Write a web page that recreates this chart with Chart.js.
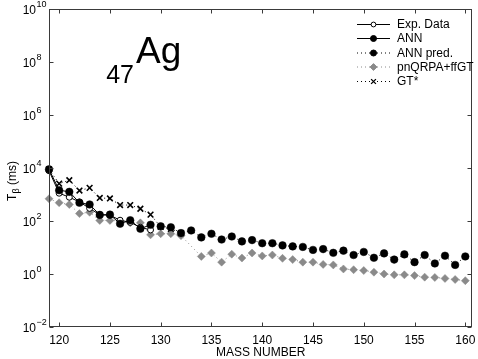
<!DOCTYPE html>
<html><head><meta charset="utf-8">
<script src="https://cdn.jsdelivr.net/npm/chart.js@4/dist/chart.umd.min.js"></script>
<style>html,body{margin:0;padding:0;background:#fff}#c{display:block}</style>
</head><body>
<canvas id="c" width="478" height="359"></canvas>
<script>
// ---- data (half-lives in ms) ----
const massNumbers = [119,120,121,122,123,124,125,126,127,128,129,130,131,132,133,134,135,136,137,138,139,140,141,142,143,144,145,146,147,148,149,150,151,152,153,154,155,156,157,158,159,160];
const expData = [7900,1120,790,525,300,172,166,107,89,58,46,null,null,null,null,null,null,null,null,null,null,null,null,null,null,null,null,null,null,null,null,null,null,null,null,null,null,null,null,null,null,null];
const annFit = [8900,1450,1260,490,420,170,174,79,107,51,72,null,null,null,null,null,null,null,null,null,null,null,null,null,null,null,null,null,null,null,null,null,null,null,null,null,null,null,null,null,null,null];
const annPred = [null,null,null,null,null,null,null,null,null,null,null,63,58,35,44,24,33,20,26,17,19,14.5,14.5,12,11,10.5,8.1,8.7,6.3,7.6,5.2,6.8,4.1,6.0,3.5,5.5,2.8,5.2,2.5,4.9,2.2,4.6];
const pnqrpa = [690,490,420,190,214,105,105,100,85,85,30,33,33,28,null,4.6,6.2,2.8,5.6,4.0,6.2,4.8,5.2,3.9,3.5,2.8,2.8,2.3,2.2,1.55,1.45,1.35,1.17,1.0,0.93,0.93,0.87,0.76,0.74,0.68,0.62,0.56];
const gtStar = [8900,2570,3470,1410,1780,740,710,400,400,290,174,60,50,35,null,null,null,null,null,null,null,null,null,null,null,null,null,null,null,null,null,null,null,null,null,null,null,null,null,null,null,null];
const seriesLabels = ['Exp. Data','ANN','ANN pred.','pnQRPA+ffGT','GT*'];
const xTicks = [120,125,130,135,140,145,150,155,160];
const yTickExponents = [-2,0,2,4,6,8,10];
const titleElement = 'Ag', titleZ = '47';
const xAxisTitle = 'MASS NUMBER';

const pts = vals => massNumbers.map((m,i)=>({x:m,y:vals[i]}));
const GREY = '#8a8a8a';
const FONT = '"Liberation Sans", Arial, Helvetica, sans-serif';

const datasets = [
  {label:seriesLabels[0], data:pts(expData), borderColor:'#000', borderWidth:1, pointStyle:'circle', pointRadius:3, pointBackgroundColor:'#fff', pointBorderColor:'#000', pointBorderWidth:1, order:3},
  {label:seriesLabels[1], data:pts(annFit), borderColor:'#000', borderWidth:1, pointStyle:'circle', pointRadius:3.8, pointBackgroundColor:'#000', pointBorderColor:'#000', pointBorderWidth:0.5, order:2},
  {label:seriesLabels[2], data:pts(annPred), borderColor:'#000', borderWidth:1, borderDash:[1,3], pointStyle:'circle', pointRadius:3.8, pointBackgroundColor:'#000', pointBorderColor:'#000', pointBorderWidth:0.5, order:1},
  {label:seriesLabels[3], data:pts(pnqrpa), borderColor:GREY, borderWidth:1, borderDash:[1,3], spanGaps:true, pointStyle:'rectRot', pointRadius:4, pointBackgroundColor:GREY, pointBorderColor:GREY, pointBorderWidth:0.5, order:4},
  {label:seriesLabels[4], data:pts(gtStar), borderColor:'#000', borderWidth:1, borderDash:[1,3], pointStyle:'crossRot', pointRadius:4, pointBorderColor:'#000', pointBorderWidth:1.6, order:0}
];
datasets.forEach(d=>{d.fill=false; d.tension=0; d.clip=false; d.spanGaps = d.spanGaps||false;});

const deco = {
  id:'deco',
  afterDraw(chart){
    const ctx = chart.ctx, xs = chart.scales.x, ys = chart.scales.y;
    const {left,right,top,bottom} = chart.chartArea;
    const L = Math.round(left)+0.5, R = Math.round(right)-0.5, T = Math.round(top)+0.5, B = Math.round(bottom)-0.5;
    ctx.save();
    ctx.strokeStyle='#3a3a3a'; ctx.lineWidth=1;
    ctx.strokeRect(L,T,R-L,B-T);
    ctx.beginPath();
    xTicks.forEach(v=>{const x=Math.round(xs.getPixelForValue(v))+0.5; ctx.moveTo(x,B); ctx.lineTo(x,B-4); ctx.moveTo(x,T); ctx.lineTo(x,T+4);});
    yTickExponents.forEach(e=>{const y=Math.round(ys.getPixelForValue(Math.pow(10,e)))+0.5; ctx.moveTo(L,y); ctx.lineTo(L+4,y); ctx.moveTo(R,y); ctx.lineTo(R-4,y);});
    ctx.stroke();
    ctx.fillStyle='#000';
    ctx.font='12px '+FONT; ctx.textAlign='center'; ctx.textBaseline='middle';
    xTicks.forEach(v=>ctx.fillText(String(v), xs.getPixelForValue(v), bottom+14));
    ctx.fillText(xAxisTitle, (left+right)/2, bottom+26);
    yTickExponents.forEach(e=>{
      const y = ys.getPixelForValue(Math.pow(10,e));
      ctx.font='12px '+FONT; ctx.textAlign='right'; ctx.textBaseline='middle';
      ctx.fillText('10', 36, y+2);
      ctx.font='9px '+FONT; ctx.textAlign='left';
      ctx.fillText(e<0 ? '\u2212'+Math.abs(e) : String(e), 36.5, y-4);
    });
    ctx.save();
    ctx.translate(13, 181); ctx.rotate(-Math.PI/2);
    ctx.textBaseline='middle'; ctx.textAlign='left';
    ctx.font='12px '+FONT;
    const w1 = ctx.measureText('T').width;
    ctx.font='9px '+FONT; const w2 = ctx.measureText('\u03b2').width;
    ctx.font='12px '+FONT; const w3 = ctx.measureText(' (ms)').width;
    let x0 = -(w1+w2+w3)/2;
    ctx.fillText('T', x0, 0);
    ctx.font='9px '+FONT; ctx.fillText('\u03b2', x0+w1, 4);
    ctx.font='12px '+FONT; ctx.fillText(' (ms)', x0+w1+w2, 0);
    ctx.restore();
    ctx.textAlign='left'; ctx.textBaseline='alphabetic';
    ctx.font='37px '+FONT; ctx.fillText(titleElement, 136, 63);
    ctx.font='25px '+FONT; ctx.textAlign='right'; ctx.fillText(titleZ, 134, 83);
    // legend
    const rows=[24,38,52.5,66.5,81];
    const lx0=357, lx1=390, mx=373.5;
    chart.data.datasets.forEach((d,i)=>{
      const y=rows[i];
      ctx.save();
      ctx.strokeStyle=d.borderColor; ctx.lineWidth=1; ctx.setLineDash(d.borderDash||[]);
      ctx.beginPath(); ctx.moveTo(lx0,y+0.5); ctx.lineTo(lx1,y+0.5); ctx.stroke();
      ctx.setLineDash([]);
      ctx.fillStyle=d.pointBackgroundColor||'#000'; ctx.strokeStyle=d.pointBorderColor||'#000';
      const r = d.pointStyle==='circle' ? (i===0?2.4:3) : 3.4;
      const bw = d.pointStyle==='crossRot'?1.3:1;
      ctx.lineWidth = bw;
      Chart.helpers.drawPoint(ctx,{pointStyle:d.pointStyle, rotation:0, radius:r, borderWidth:bw}, mx, y+0.5);
      ctx.restore();
      ctx.fillStyle='#000'; ctx.font='12px '+FONT; ctx.textAlign='left'; ctx.textBaseline='middle';
      ctx.fillText(d.label, 397, y+1);
    });
    ctx.restore();
  }
};

new Chart(document.getElementById('c'), {
  type:'line',
  data:{datasets},
  options:{
    responsive:false, animation:false, devicePixelRatio:1,
    layout:{padding:{left:49,top:9,right:4,bottom:32}},
    plugins:{legend:{display:false}, tooltip:{enabled:false}, title:{display:false}},
    scales:{
      x:{type:'linear', min:119, max:160.7, display:false},
      y:{type:'logarithmic', min:1e-2, max:1e10, display:false}
    }
  },
  plugins:[deco]
});
</script>
</body></html>
